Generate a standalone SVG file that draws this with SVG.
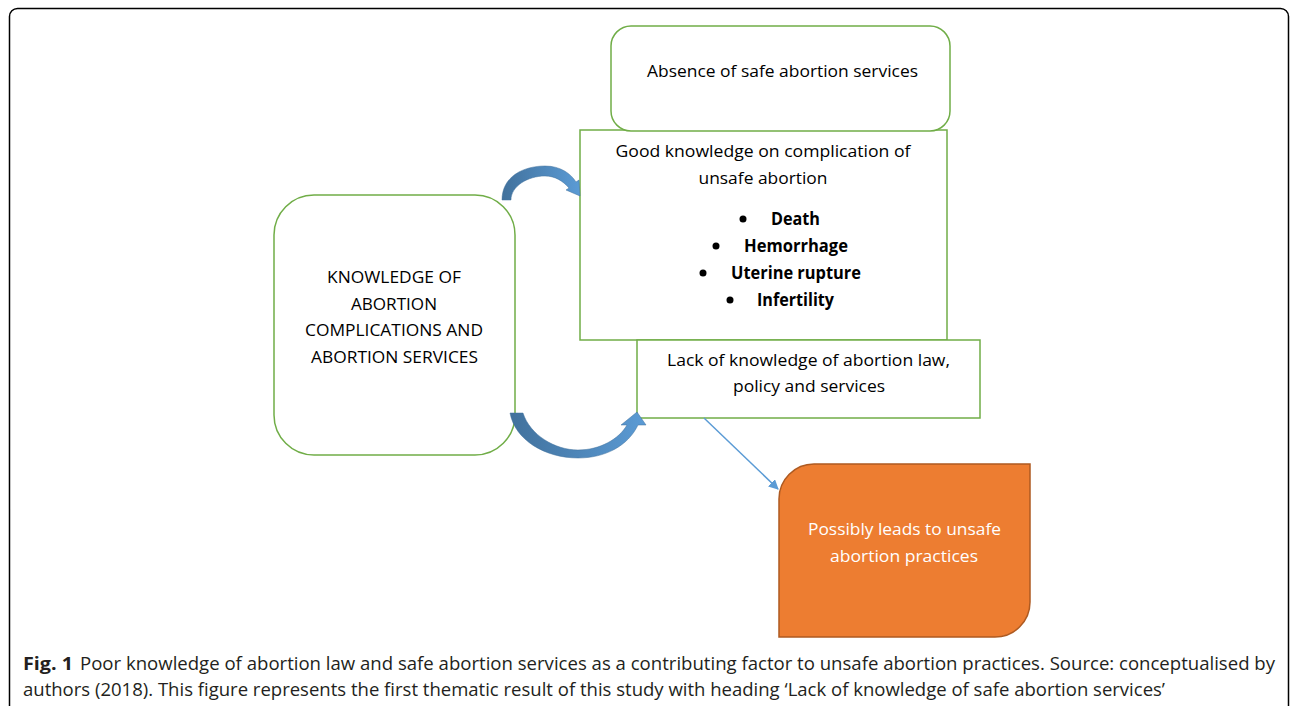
<svg xmlns="http://www.w3.org/2000/svg" width="1290" height="706" viewBox="0 0 1290 706">
<style>
.box{fill:#fff;stroke:#70AD47;stroke-width:1.5}
.t{font-family:"Open Sans","Liberation Sans",sans-serif;font-size:17px;fill:#000;text-anchor:middle}
.b{font-weight:bold}
.cap{font-family:"Open Sans","Liberation Sans",sans-serif;font-size:17.5px;fill:#231f20}
</style>
<defs>
<linearGradient id="bg" x1="0" y1="0" x2="1" y2="0">
<stop offset="0" stop-color="#41719C"/>
<stop offset="1" stop-color="#5B9BD5"/>
</linearGradient>
<marker id="ah" markerWidth="10" markerHeight="10" refX="9" refY="5" orient="auto" markerUnits="userSpaceOnUse">
<path d="M0,0 L10,5 L0,10 Z" fill="#5B9BD5"/>
</marker>
</defs>
<rect x="9.5" y="8.5" width="1279" height="720" rx="8" fill="#fff" stroke="#000" stroke-width="1.5"/>

<g id="good-knowledge">
<rect class="box" x="580" y="130" width="367" height="210"/>
<text class="t" x="763" y="157" textLength="295" lengthAdjust="spacingAndGlyphs">Good knowledge on complication of</text>
<text class="t" x="763" y="184" textLength="129" lengthAdjust="spacingAndGlyphs">unsafe abortion</text>
<circle cx="743" cy="219" r="3.5"/>
<text class="t b" x="795.5" y="225" textLength="49" lengthAdjust="spacingAndGlyphs">Death</text>
<circle cx="716" cy="246" r="3.5"/>
<text class="t b" x="796" y="252" textLength="104" lengthAdjust="spacingAndGlyphs">Hemorrhage</text>
<circle cx="703" cy="273" r="3.5"/>
<text class="t b" x="796" y="279" textLength="130" lengthAdjust="spacingAndGlyphs">Uterine rupture</text>
<circle cx="730" cy="300" r="3.5"/>
<text class="t b" x="795.5" y="306" textLength="77" lengthAdjust="spacingAndGlyphs">Infertility</text>
</g>

<g id="absence">
<rect class="box" x="611" y="26" width="339" height="105" rx="20"/>
<text class="t" x="782.5" y="77" textLength="271" lengthAdjust="spacingAndGlyphs">Absence of safe abortion services</text>
</g>

<g id="lack">
<rect class="box" x="637" y="340" width="343" height="78"/>
<text class="t" x="808.5" y="366" textLength="283" lengthAdjust="spacingAndGlyphs">Lack of knowledge of abortion law,</text>
<text class="t" x="809" y="392" textLength="152" lengthAdjust="spacingAndGlyphs">policy and services</text>
</g>

<g id="knowledge">
<rect class="box" x="274" y="195" width="241" height="260" rx="40"/>
<text class="t" x="394" y="283" textLength="134" lengthAdjust="spacingAndGlyphs">KNOWLEDGE OF</text>
<text class="t" x="394" y="310" textLength="86" lengthAdjust="spacingAndGlyphs">ABORTION</text>
<text class="t" x="394" y="336" textLength="178" lengthAdjust="spacingAndGlyphs">COMPLICATIONS AND</text>
<text class="t" x="394.5" y="363" textLength="167" lengthAdjust="spacingAndGlyphs">ABORTION SERVICES</text>
</g>

<g id="outcome">
<path d="M814,464 H1030 V602 A35,35 0 0 1 995,637 H779 V499 A35,35 0 0 1 814,464 Z" fill="#ED7D31" stroke="#AE5A21" stroke-width="1.5"/>
<text class="t" x="904.5" y="535" style="fill:#fff" textLength="193" lengthAdjust="spacingAndGlyphs">Possibly leads to unsafe</text>
<text class="t" x="904" y="562" style="fill:#fff" textLength="148" lengthAdjust="spacingAndGlyphs">abortion practices</text>
</g>

<g id="connectors">
<path d="M502,200 C502,176 524,166 545,166 C561,166 571,174 576,182 L579,180 L580,196 L566,190 L569,188 C563,181 555,176 545,176 C528,176 511,186 511,200 Z" fill="url(#bg)" stroke="#41719C" stroke-width="0.5"/>
<path d="M510,413 L523,413 C530,435 555,450 578,450 C600,450 619,439 627,425 L621,425 L637,412 L646,425 L638,425 C628,446 605,458 578,458 C545,458 515,440 510,413 Z" fill="url(#bg)" stroke="#41719C" stroke-width="0.5"/>
<line x1="704" y1="418" x2="778" y2="489" stroke="#5B9BD5" stroke-width="1.5" marker-end="url(#ah)"/>
</g>

<g id="caption">
<text class="cap b" x="23" y="670" style="font-weight:bold" textLength="50" lengthAdjust="spacingAndGlyphs">Fig. 1</text>
<text class="cap" x="80" y="670" textLength="1195" lengthAdjust="spacingAndGlyphs">Poor knowledge of abortion law and safe abortion services as a contributing factor to unsafe abortion practices. Source: conceptualised by</text>
<text class="cap" x="23" y="696" textLength="1142" lengthAdjust="spacingAndGlyphs">authors (2018). This figure represents the first thematic result of this study with heading ‘Lack of knowledge of safe abortion services’</text>
</g>
</svg>
